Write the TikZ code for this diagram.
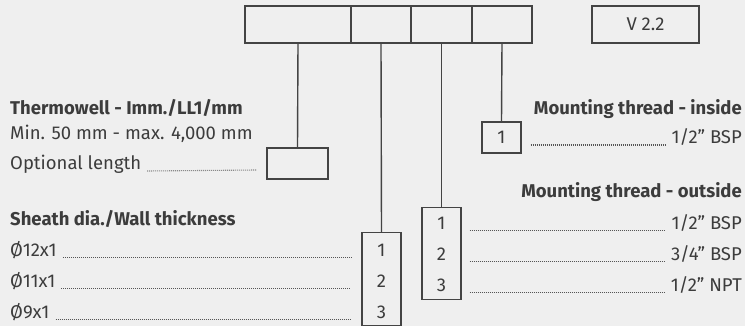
\documentclass[tikz,border=0pt]{standalone}
\usepackage{fontspec}
\setmainfont{Fira Sans}
\definecolor{bg}{HTML}{EFEFEF}
\definecolor{ln}{HTML}{444444}
\definecolor{tx}{HTML}{3C3C3C}
\definecolor{dt}{HTML}{555555}
\newcommand\lightser{\fontseries{l}\selectfont}
\newcommand\qq{{\char34}}
\begin{document}
\begin{tikzpicture}[x=1pt,y=-1pt,
  box/.style={draw=ln,line width=1.4pt,inner sep=0pt,fill=none},
  head/.style={font=\fontsize{18.5}{18.5}\selectfont\bfseries,text=tx,inner sep=0pt},
  txt/.style={font=\fontsize{18.5}{18.5}\lightser,text=tx,inner sep=0pt},
  num/.style={font=\fontsize{18.5}{18.5}\lightser,text=tx,inner sep=0pt},
  link/.style={draw=ln,line width=1.4pt},
  leader/.style={draw=dt,line width=1.1pt,dash pattern=on 0.8pt off 1.2pt}]
\fill[bg] (0,0) rectangle (745,326);
\useasboundingbox (0,0) rectangle (745,326);
% top cells
\node[box,minimum width=106pt,minimum height=37pt] (c1) at (298,24.5) {};
\node[box,minimum width=60pt,minimum height=37pt] (c2) at (381,24.5) {};
\node[box,minimum width=61pt,minimum height=37pt] (c3) at (441.5,24.5) {};
\node[box,minimum width=60pt,minimum height=37pt] (c4) at (502,24.5) {};
\node[box,minimum width=107pt,minimum height=37pt,num] (v) at (645.5,24.5) {V 2.2};
% lower boxes
\node[box,minimum width=61pt,minimum height=31pt] (opt) at (297.5,163.5) {};
\node[box,minimum width=39pt,minimum height=31pt] (in) at (501.5,137.5) {};
\node[box,minimum width=39pt,minimum height=92pt] (out) at (441.5,253.5) {};
\node[box,minimum width=39pt,minimum height=93pt] (sh) at (381.5,279) {};
% connectors
\draw[link] (c1.south) -- (opt.north);
\draw[link] (c2.south) -- (sh.north);
\draw[link] (c3.south) -- (out.north);
\draw[link] (c4.south) -- (in.north);
% left texts
\node[head,anchor=base west] (th) at (10,114.5) {Thermowell - Imm./LL1/mm};
\node[txt,anchor=base west] (mn) at (10,139.5) {Min. 50 mm - max. 4,000 mm};
\node[txt,anchor=base west] (ol) at (10,170) {Optional length};
\draw[leader] ([xshift=6pt,yshift=-1pt]ol.base east) -- ([xshift=-10pt]ol.base east -| opt.west);
\node[head,anchor=base west] (sd) at (10,225.5) {Sheath dia./Wall thickness};
\node[txt,anchor=base west] (s1) at (10,256.5) {Ø12x1};
\node[txt,anchor=base west] (s2) at (10,287.5) {Ø11x1};
\node[txt,anchor=base west] (s3) at (10,318.5) {Ø9x1};
\node[num,anchor=base] (n1) at (381.5,256.5) {1};
\node[num,anchor=base] (n2) at (381.5,287.5) {2};
\node[num,anchor=base] (n3) at (381.5,318.5) {3};
\draw[leader] ([xshift=6pt,yshift=-1pt]s1.base east) -- ([xshift=-10pt,yshift=-1pt]s1.base east -| sh.west);
\draw[leader] ([xshift=6pt,yshift=-1pt]s2.base east) -- ([xshift=-10pt,yshift=-1pt]s2.base east -| sh.west);
\draw[leader] ([xshift=6pt,yshift=-1pt]s3.base east) -- ([xshift=-10pt,yshift=-1pt]s3.base east -| sh.west);
% right texts
\node[head,anchor=base east] (mi) at (742,114.5) {Mounting thread - inside};
\node[num,anchor=base] (i1) at (501.5,144) {1};
\node[txt,anchor=base east] (ib) at (742,144) {1/2\qq{} BSP};
\draw[leader] ([xshift=9pt,yshift=-1pt]i1.base -| in.east) -- ([xshift=-6pt,yshift=-1pt]ib.base west);
\node[head,anchor=base east] (mo) at (742,197.5) {Mounting thread - outside};
\node[num,anchor=base] (o1) at (441.5,229.5) {1};
\node[num,anchor=base] (o2) at (441.5,260.5) {2};
\node[num,anchor=base] (o3) at (441.5,291.5) {3};
\node[txt,anchor=base east] (ob1) at (742,229.5) {1/2\qq{} BSP};
\node[txt,anchor=base east] (ob2) at (742,260.5) {3/4\qq{} BSP};
\node[txt,anchor=base east] (ob3) at (742,291.5) {1/2\qq{} NPT};
\draw[leader] ([xshift=8pt,yshift=-1pt]o1.base -| out.east) -- ([xshift=-6pt,yshift=-1pt]ob1.base west);
\draw[leader] ([xshift=8pt,yshift=-1pt]o2.base -| out.east) -- ([xshift=-6pt,yshift=-1pt]ob2.base west);
\draw[leader] ([xshift=8pt,yshift=-1pt]o3.base -| out.east) -- ([xshift=-6pt,yshift=-1pt]ob3.base west);
\end{tikzpicture}
\end{document}
